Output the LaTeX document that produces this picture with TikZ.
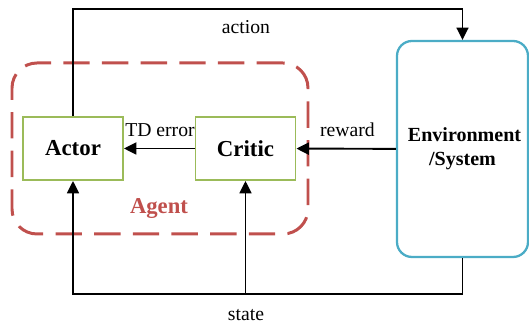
\documentclass[tikz,border=0pt]{standalone}
\usepackage{fontspec}
\setmainfont{Liberation Serif}
\usetikzlibrary{graphs}
\usetikzlibrary{arrows.meta}

\definecolor{boxgreen}{RGB}{155,187,89}
\definecolor{envblue}{RGB}{75,172,198}
\definecolor{agentred}{RGB}{192,80,77}

\begin{document}
\begin{tikzpicture}[>={Triangle[length=7pt,width=6.8pt]}]
	\useasboundingbox (0,0) rectangle (10.58,-6.48);
	\tikzset{blockbox/.style={draw=boxgreen, line width=1.1pt, inner sep=0pt, minimum width=2cm, minimum height=1.26cm, font=\fontsize{13}{15}\selectfont\bfseries}}
	\tikzset{flow/.style={line width=1.1pt}}
	\tikzset{lbl/.style={font=\fontsize{11.2}{13}\selectfont}}

	% agent frame
	\node [name=agent, draw=agentred, rounded corners=0.5cm, dash pattern=on 15pt off 7pt, line width=1.7pt, minimum width=5.92cm, minimum height=3.42cm] at (3.2,-2.97) {};
	\node [name=agentlabel, text=agentred, font=\fontsize{12.9}{15}\selectfont\bfseries] at (3.18,-4.18) {Agent};

	\node [name=actor, blockbox] at (1.46,-2.97) {Actor};
	\node [name=critic, blockbox] at (4.91,-2.97) {Critic};

	\node [name=env, draw=envblue, rounded corners=0.3cm, line width=1.3pt, minimum width=2.62cm, minimum height=4.32cm, align=center, font=\fontsize{11.4}{13.7}\selectfont\bfseries] at (9.25,-2.98) {\hspace*{0.08cm}Environment\\/System};

	\coordinate (actiony) at (0,-0.18);
	\coordinate (statey) at (0,-5.88);

	\node [name=actionlabel, lbl] at (4.92,-0.54) {action};
	\node [name=tdlabel, lbl] at (3.2,-2.6) {TD error};
	\node [name=rewardlabel, lbl] at (6.95,-2.6) {reward};
	\node [name=statelabel, lbl] at (4.92,-6.3) {state};

	\graph {(critic) ->[flow] (actor)};
	\graph {(env) ->[flow] (critic)};

	\draw [flow,->] (actor.north) -- (actor.north |- actiony) -| (env.north);
	\draw [flow,->] (env.south) |- (statey -| actor) -- (actor.south);
	\draw [flow,->] (statey -| critic) -- (critic.south);

\end{tikzpicture}
\end{document}
